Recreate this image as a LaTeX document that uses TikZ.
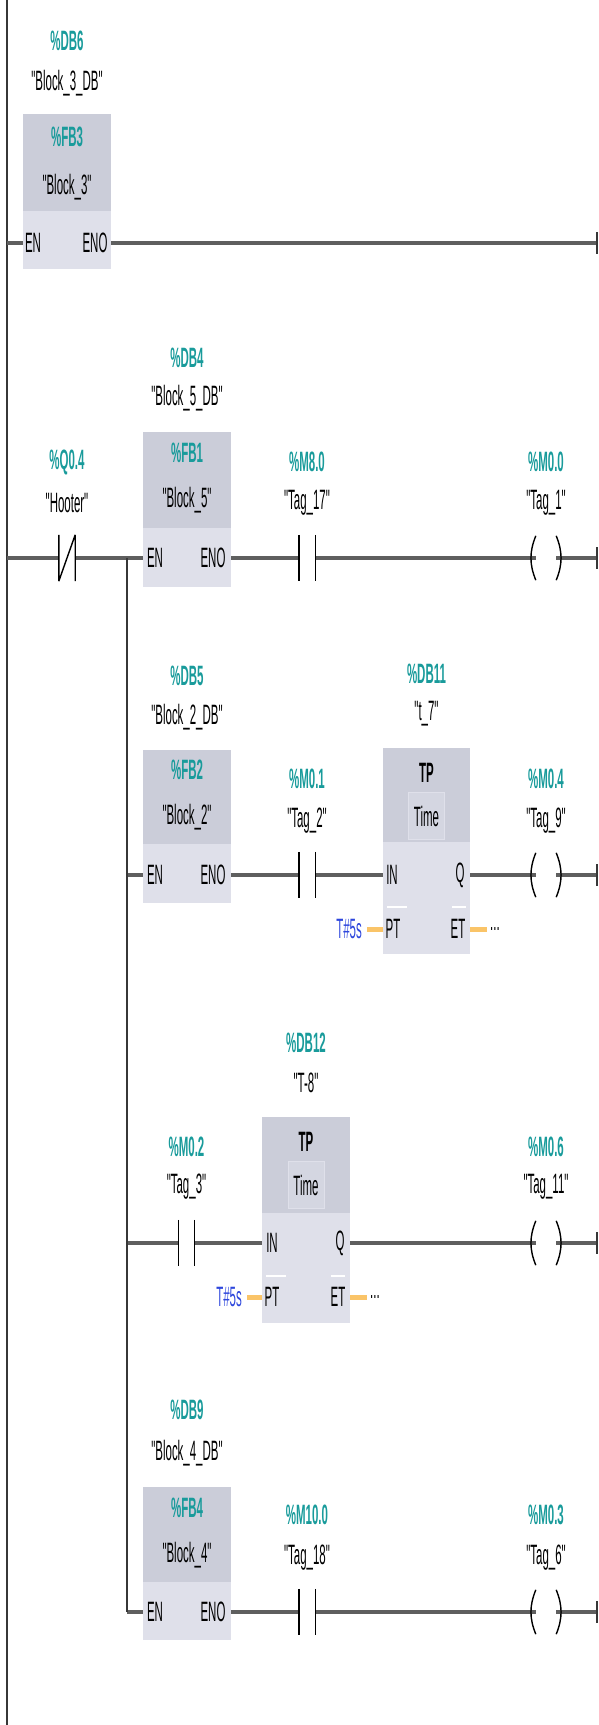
\documentclass[tikz,border=0pt]{standalone}
\usepackage{fontspec}
\usepackage{tikz}
\newfontfamily\plcfont[FakeStretch=0.41]{Liberation Sans}
\definecolor{PlcTeal}{RGB}{25,155,155}
\definecolor{PlcBlue}{RGB}{45,70,220}
\definecolor{PlcWire}{RGB}{95,95,95}
\definecolor{PlcRail}{RGB}{55,55,55}
\definecolor{PlcHead}{RGB}{203,205,217}
\definecolor{PlcBody}{RGB}{223,224,234}
\definecolor{PlcTime}{RGB}{212,214,225}
\definecolor{PlcPin}{RGB}{250,196,104}

\begin{document}
\begin{tikzpicture}[x=1pt,y=-1pt,
  txt/.style={inner sep=0pt,font=\plcfont\fontsize{28}{28}\selectfont},
  addr/.style={inner sep=0pt,text=PlcTeal,font=\plcfont\bfseries\fontsize{28}{28}\selectfont},
  konst/.style={txt,text=PlcBlue},
  blk/.style 2 args={rectangle,inner sep=0pt,fill=PlcBody,minimum width=88pt,minimum height=#1,
    path picture={\fill[PlcHead] (path picture bounding box.north west) rectangle ([yshift=-#2]path picture bounding box.north east);}},
  timebox/.style={txt,fill=PlcTime,draw=PlcBody,minimum width=36pt,minimum height=47pt},
  cnt/.style={rectangle,inner sep=0pt,minimum width=16pt,minimum height=46pt},
  coil/.style={rectangle,inner sep=0pt,minimum width=20pt,minimum height=44pt},
  wire/.style={line width=4pt,PlcWire},
  pin/.style={line width=5pt,PlcPin},
  bar/.style={line width=1.4pt,black},
  rail/.style={line width=2.5pt,PlcRail},
  sep/.style={line width=2pt,white}]
\useasboundingbox (0,0) rectangle (598,1725);

% power rail
\coordinate (top) at (7,0);
\coordinate (bot) at (7,1725);
\draw[rail] (top) -- (bot);

% network 1
\node[addr] (db6) at (67,41) {\%DB6};
\node[txt] (db6n) at (67,83) {"Block\_3\_DB"};
\node[blk={155pt}{97pt}] (fb3) at (67,191.5) {};
\node[addr] (fb3a) at (67,137) {\%FB3};
\node[txt] (fb3n) at (67,187) {"Block\_3"};
\node[txt] (en1) at (33,243) {EN};
\node[txt] (eno1) at (95,243) {ENO};
\coordinate (r1) at (7,243);
\coordinate (e1) at (597,243);
\draw[wire] (r1) -- (fb3.west |- en1);
\draw[wire] (fb3.east |- eno1) -- (e1);

% network 2
\coordinate (r2) at (7,558);
\coordinate (br2) at (127,558);
\coordinate (e2) at (597,558);
\node[cnt] (q04) at (67,558) {};
\node[addr] (q04a) at (67,462) {\%Q0.4};
\node[txt] (q04n) at (67,503) {"Hooter"};
\node[addr] (db4) at (187,358) {\%DB4};
\node[txt] (db4n) at (187,398) {"Block\_5\_DB"};
\node[blk={155pt}{96pt}] (fb1) at (187,509.5) {};
\node[addr] (fb1a) at (187,453) {\%FB1};
\node[txt] (fb1n) at (187,500) {"Block\_5"};
\node[txt] (en2) at (155,558) {EN};
\node[txt] (eno2) at (213,558) {ENO};
\node[cnt] (m80) at (307,558) {};
\node[addr] (m80a) at (307,462) {\%M8.0};
\node[txt] (m80n) at (307,503) {"Tag\_17"};
\node[coil] (m00) at (546,558) {};
\node[addr] (m00a) at (546,462) {\%M0.0};
\node[txt] (m00n) at (546,503) {"Tag\_1"};
\draw[wire] (r2) -- (q04.west);
\draw[wire] (q04.east) -- (fb1.west |- en2);
\draw[wire] (fb1.east |- eno2) -- (m80.west);
\draw[wire] (m80.east) -- (m00.west);
\draw[wire] (m00.east) -- (e2);
\draw[bar] (q04.north west) -- (q04.south west) (q04.north east) -- (q04.south east)
  (q04.south west) -- (q04.north east);

% network 3
\coordinate (br3) at (127,875);
\coordinate (e3) at (597,875);
\node[addr] (db5) at (187,676) {\%DB5};
\node[txt] (db5n) at (187,717) {"Block\_2\_DB"};
\node[blk={153pt}{94pt}] (fb2) at (187,826.5) {};
\node[addr] (fb2a) at (187,770) {\%FB2};
\node[txt] (fb2n) at (187,817) {"Block\_2"};
\node[txt] (en3) at (155,875) {EN};
\node[txt] (eno3) at (213,875) {ENO};
\node[cnt] (m01) at (307,875) {};
\node[addr] (m01a) at (307,779) {\%M0.1};
\node[txt] (m01n) at (307,821) {"Tag\_2"};
\node[addr] (db11) at (426.5,674) {\%DB11};
\node[txt] (db11n) at (426.5,714) {"t\_7"};
\node[blk={206pt}{94pt}, minimum width=87pt] (t7) at (426.5,851) {};
\node[txt,font=\plcfont\bfseries\fontsize{28}{28}\selectfont] (t7a) at (426.5,773) {TP};
\node[timebox] (t7t) at (426.5,816) {Time};
\node[txt] (in1) at (392,875) {IN};
\node[txt] (q1) at (460,875) {Q};
\node[txt] (pt1) at (393,929) {PT};
\node[txt] (et1) at (458,929) {ET};
\node[konst,anchor=east] (t5a) at (362,929) {T\#5s};
\node[txt,anchor=west] (et1v) at (490,929) {...};
\node[coil] (m04) at (546,875) {};
\node[addr] (m04a) at (546,779) {\%M0.4};
\node[txt] (m04n) at (546,821) {"Tag\_9"};
\draw[wire] (br3) -- (fb2.west |- en3);
\draw[wire] (fb2.east |- eno3) -- (m01.west);
\draw[wire] (m01.east) -- (t7.west |- in1);
\draw[wire] (t7.east |- q1) -- (m04.west);
\draw[wire] (m04.east) -- (e3);
\draw[pin] ([xshift=5pt]t5a.east) -- (t7.west |- pt1);
\draw[pin] (t7.east |- et1) -- ([xshift=-3pt]et1v.west);
\draw[sep] (387,907) -- (407,907) (452,907) -- (466,907);

% network 4
\coordinate (br4) at (127,1243);
\coordinate (e4) at (597,1243);
\node[cnt] (m02) at (186.5,1243) {};
\node[addr] (m02a) at (186.5,1147) {\%M0.2};
\node[txt] (m02n) at (186.5,1187) {"Tag\_3"};
\node[addr] (db12) at (306,1043) {\%DB12};
\node[txt] (db12n) at (306,1083) {"T-8"};
\node[blk={206pt}{96pt}] (t8) at (306,1220) {};
\node[txt,font=\plcfont\bfseries\fontsize{28}{28}\selectfont] (t8a) at (306,1142) {TP};
\node[timebox] (t8t) at (306,1185) {Time};
\node[txt] (in2) at (272,1243) {IN};
\node[txt] (q2) at (340,1243) {Q};
\node[txt] (pt2) at (272,1297) {PT};
\node[txt] (et2) at (338,1297) {ET};
\node[konst,anchor=east] (t5b) at (242,1297) {T\#5s};
\node[txt,anchor=west] (et2v) at (370,1297) {...};
\node[coil] (m06) at (546,1243) {};
\node[addr] (m06a) at (546,1147) {\%M0.6};
\node[txt] (m06n) at (546,1187) {"Tag\_11"};
\draw[wire] (br4) -- (m02.west);
\draw[wire] (m02.east) -- (t8.west |- in2);
\draw[wire] (t8.east |- q2) -- (m06.west);
\draw[wire] (m06.east) -- (e4);
\draw[pin] ([xshift=5pt]t5b.east) -- (t8.west |- pt2);
\draw[pin] (t8.east |- et2) -- ([xshift=-3pt]et2v.west);
\draw[sep] (266,1276) -- (286,1276) (331,1276) -- (345,1276);

% network 5
\coordinate (br5) at (127,1612);
\coordinate (e5) at (597,1612);
\node[addr] (db9) at (187,1410) {\%DB9};
\node[txt] (db9n) at (187,1453) {"Block\_4\_DB"};
\node[blk={153pt}{95pt}] (fb4) at (187,1563.5) {};
\node[addr] (fb4a) at (187,1508) {\%FB4};
\node[txt] (fb4n) at (187,1555) {"Block\_4"};
\node[txt] (en5) at (155,1612) {EN};
\node[txt] (eno5) at (213,1612) {ENO};
\node[cnt] (m100) at (307,1612) {};
\node[addr] (m100a) at (307,1515) {\%M10.0};
\node[txt] (m100n) at (307,1558) {"Tag\_18"};
\node[coil] (m03) at (546,1612) {};
\node[addr] (m03a) at (546,1515) {\%M0.3};
\node[txt] (m03n) at (546,1558) {"Tag\_6"};
\draw[wire] (br5) -- (fb4.west |- en5);
\draw[wire] (fb4.east |- eno5) -- (m100.west);
\draw[wire] (m100.east) -- (m03.west);
\draw[wire] (m03.east) -- (e5);

% branch line
\draw[line width=1.6pt,PlcRail] (br2) -- (br5);

\foreach \c in {m80,m01,m02,m100} {
  \draw[bar] (\c.north west) -- (\c.south west) (\c.north east) -- (\c.south east);
}
\foreach \c in {m00,m04,m06,m03} {
  \draw[bar] (\c.north west) to[bend right=22] (\c.south west);
  \draw[bar] (\c.north east) to[bend left=22] (\c.south east);
}
\foreach \e in {e1,e2,e3,e4,e5} {
  \draw[rail] ([yshift=11pt]\e) -- ([yshift=-11pt]\e);
}
\end{tikzpicture}
\end{document}
